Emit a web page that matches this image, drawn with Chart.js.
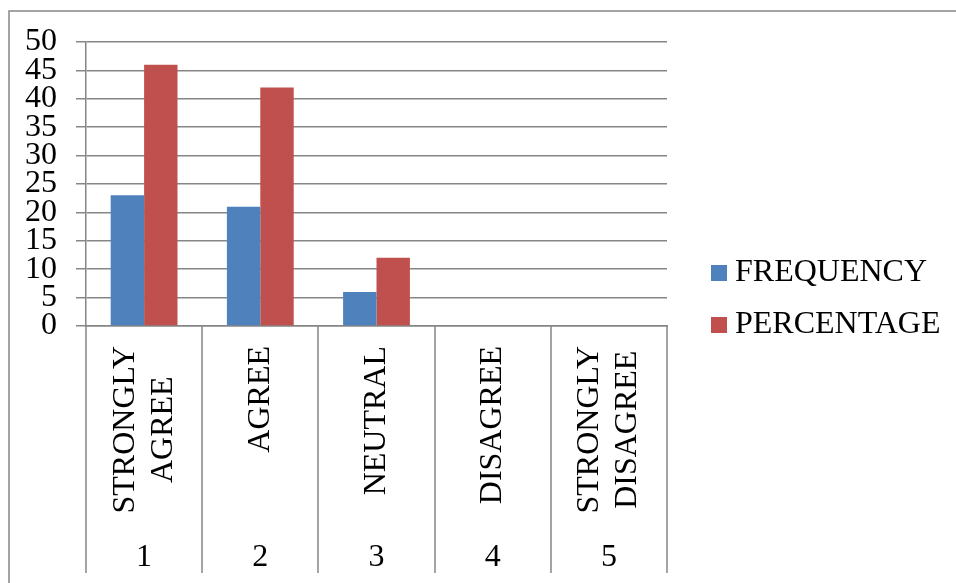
<!DOCTYPE html>
<html>
<head>
<meta charset="utf-8">
<script src="https://cdn.jsdelivr.net/npm/chart.js@4/dist/chart.umd.min.js"></script>
<style>
  body { margin: 0; background: #fff; }
  canvas { display: block; }
</style>
</head>
<body>
<canvas id="survey-chart" width="956" height="583"></canvas>
<script>
// data
var categories = [['STRONGLY', 'AGREE'], ['AGREE'], ['NEUTRAL'], ['DISAGREE'], ['STRONGLY', 'DISAGREE']];
var itemNumbers = ['1', '2', '3', '4', '5'];
var seriesNames = ['FREQUENCY', 'PERCENTAGE'];
var frequency = [23, 21, 6, 0, 0];
var percentage = [46, 42, 12, 0, 0];
var yTickValues = [0, 5, 10, 15, 20, 25, 30, 35, 40, 45, 50];

var gridColor = '#868686';
var fontFamily = '"Liberation Serif", "Times New Roman", serif';
var fontSize = 32;

// draws the frame, the category boxes, the rotated names and the legend
var excelPlugin = {
  id: 'excelPlugin',
  afterDraw: function (chart) {
    var ctx = chart.ctx;
    var xScale = chart.scales.x;
    var numScale = chart.scales.x2;
    var step = (xScale.right - xScale.left) / categories.length;
    ctx.save();
    // outer frame
    ctx.strokeStyle = gridColor;
    ctx.lineWidth = 1.5;
    ctx.strokeRect(9, 11, 1000, 1000);
    // category dividers
    for (var i = 0; i <= categories.length; i++) {
      var x = Math.round(xScale.left + i * step);
      ctx.beginPath();
      ctx.moveTo(x, xScale.top);
      ctx.lineTo(x, numScale.bottom);
      ctx.stroke();
    }
    // category names, rotated
    ctx.font = fontSize + 'px ' + fontFamily;
    ctx.fillStyle = '#000';
    ctx.textAlign = 'center';
    ctx.textBaseline = 'middle';
    var lineHeight = 38;
    for (var c = 0; c < categories.length; c++) {
      var lines = categories[c];
      var cx = xScale.getPixelForValue(c);
      var maxW = 0;
      for (var l = 0; l < lines.length; l++) {
        maxW = Math.max(maxW, ctx.measureText(lines[l]).width);
      }
      var cy = xScale.top + 20 + maxW / 2;
      for (var l2 = 0; l2 < lines.length; l2++) {
        var lx = cx + (l2 - (lines.length - 1) / 2) * lineHeight;
        ctx.save();
        ctx.translate(lx, cy);
        ctx.rotate(-Math.PI / 2);
        ctx.fillText(lines[l2], 0, 0);
        ctx.restore();
      }
    }
    // legend
    ctx.textAlign = 'left';
    var legendX = chart.chartArea.right + 44;
    var legendY = 273;
    chart.data.datasets.forEach(function (ds, k) {
      var y = legendY + k * 52;
      ctx.fillStyle = ds.backgroundColor;
      ctx.fillRect(legendX, y - 8, 16, 16);
      ctx.fillStyle = '#000';
      ctx.fillText(ds.label, legendX + 24, y);
    });
    ctx.restore();
  }
};

var ctx = document.getElementById('survey-chart').getContext('2d');
new Chart(ctx, {
  type: 'bar',
  data: {
    labels: categories,
    datasets: [{
      label: seriesNames[0],
      data: frequency,
      backgroundColor: '#4F81BD'
    }, {
      label: seriesNames[1],
      data: percentage,
      backgroundColor: '#C0504D'
    }]
  },
  options: {
    responsive: false,
    devicePixelRatio: 1,
    animation: false,
    layout: {
      padding: { left: 0, top: 42, right: 289, bottom: 10 }
    },
    datasets: {
      bar: { categoryPercentage: 0.575, barPercentage: 1 }
    },
    plugins: {
      legend: { display: false },
      tooltip: { enabled: false }
    },
    scales: {
      y: {
        min: 0,
        max: 50,
        afterBuildTicks: function (scale) {
          scale.ticks = yTickValues.map(function (v) { return { value: v }; });
        },
        afterFit: function (scale) { scale.width = 86; },
        grid: { color: gridColor, lineWidth: 1.5, tickLength: 10 },
        border: { color: gridColor, width: 1.5 },
        ticks: {
          color: '#000',
          padding: 19,
          autoSkip: false,
          font: { family: fontFamily, size: fontSize }
        }
      },
      x: {
        position: 'bottom',
        weight: 0,
        afterFit: function (scale) { scale.height = 191; },
        grid: { display: false },
        border: { color: gridColor, width: 1.5 },
        ticks: { display: false }
      },
      x2: {
        type: 'category',
        position: 'bottom',
        weight: 1,
        labels: itemNumbers,
        afterFit: function (scale) { scale.height = 56; },
        grid: { display: false },
        border: { display: false },
        ticks: {
          color: '#000',
          padding: 13,
          maxRotation: 0,
          font: { family: fontFamily, size: fontSize }
        }
      }
    }
  },
  plugins: [excelPlugin]
});
</script>
</body>
</html>
